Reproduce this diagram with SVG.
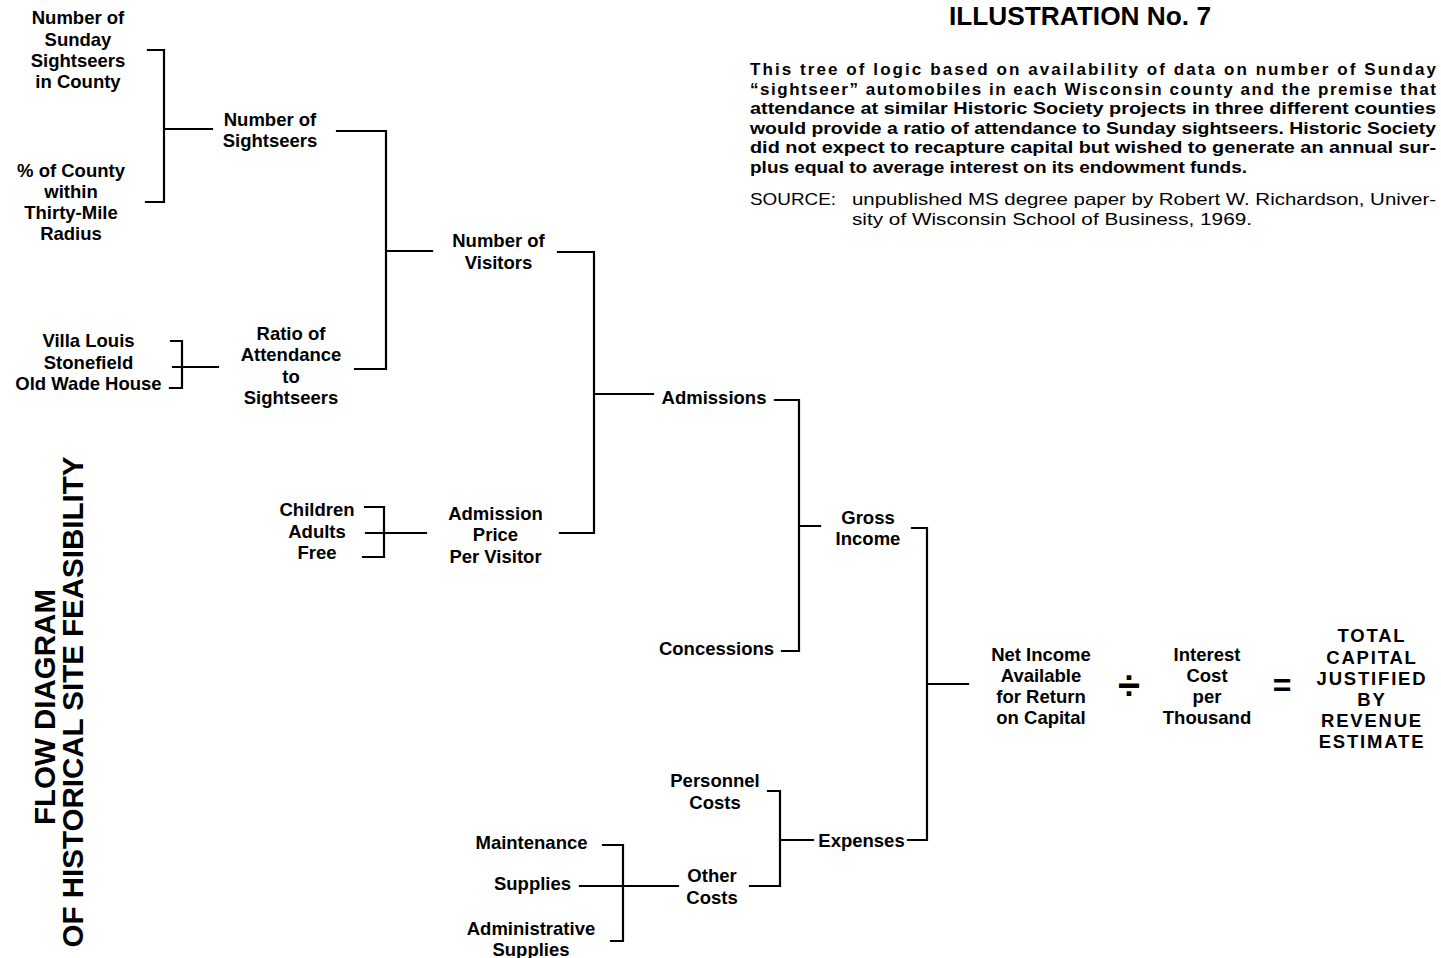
<svg xmlns="http://www.w3.org/2000/svg" width="1441" height="958" viewBox="0 0 1441 958">
<style>
  .n { font-family: "Liberation Sans", Arial, sans-serif; font-weight: bold; font-size: 18.5px; fill: #000; text-anchor: middle; }
  .caps { letter-spacing: 1.8px; }
  .p { font-family: "Liberation Sans", Arial, sans-serif; font-weight: bold; font-size: 17px; fill: #000; }
  .s { font-family: "Liberation Sans", Arial, sans-serif; font-size: 17px; fill: #000; }
  .t { font-family: "Liberation Sans", Arial, sans-serif; font-weight: bold; font-size: 25px; fill: #000; }
  .v { font-family: "Liberation Sans", Arial, sans-serif; font-weight: bold; font-size: 30px; fill: #000; text-anchor: middle; }
  .op { font-family: "Liberation Sans", Arial, sans-serif; font-weight: bold; fill: #000; text-anchor: middle; }
  .c { fill: none; stroke: #000; stroke-width: 2.2; stroke-linecap: square; stroke-linejoin: miter; }
</style>
<rect width="1441" height="958" fill="#fff"/>

<g id="title">
  <text class="t" x="949" y="25" textLength="262" lengthAdjust="spacingAndGlyphs">ILLUSTRATION No. 7</text>
</g>
<g id="description">
  <text class="p" x="750" y="75" textLength="686" lengthAdjust="spacing">This tree of logic based on availability of data on number of Sunday</text>
  <text class="p" x="750" y="94.5" textLength="686" lengthAdjust="spacing">“sightseer” automobiles in each Wisconsin county and the premise that</text>
  <text class="p" x="750" y="114" textLength="686" lengthAdjust="spacingAndGlyphs">attendance at similar Historic Society projects in three different counties</text>
  <text class="p" x="750" y="133.5" textLength="686" lengthAdjust="spacingAndGlyphs">would provide a ratio of attendance to Sunday sightseers. Historic Society</text>
  <text class="p" x="750" y="153" textLength="686" lengthAdjust="spacingAndGlyphs">did not expect to recapture capital but wished to generate an annual sur-</text>
  <text class="p" x="750" y="172.5" textLength="497" lengthAdjust="spacingAndGlyphs">plus equal to average interest on its endowment funds.</text>
  <text class="s" x="750" y="205" textLength="86" lengthAdjust="spacingAndGlyphs">SOURCE:</text>
  <text class="s" x="852" y="205" textLength="584" lengthAdjust="spacingAndGlyphs">unpublished MS degree paper by Robert W. Richardson, Univer-</text>
  <text class="s" x="852" y="225" textLength="400" lengthAdjust="spacingAndGlyphs">sity of Wisconsin School of Business, 1969.</text>
</g>
<g id="side-title">
  <text class="v" transform="translate(55,707) rotate(-90)" textLength="236" lengthAdjust="spacingAndGlyphs">FLOW DIAGRAM</text>
  <text class="v" transform="translate(83,702) rotate(-90)" textLength="491" lengthAdjust="spacingAndGlyphs">OF HISTORICAL SITE FEASIBILITY</text>
</g>

<g id="connectors">
  <path class="c" d="M148,50 H164 V202 H146 M164,129 H212"/>
  <path class="c" d="M337,131 H386 V369 H355 M386,251 H432"/>
  <path class="c" d="M171,341 H182 V388 H170 M173,367 H218"/>
  <path class="c" d="M365,507 H384 V557 H363 M366,533 H426"/>
  <path class="c" d="M558,252 H594 V533 H560 M594,394 H653"/>
  <path class="c" d="M775,400 H799 V651 H782 M799,526 H820"/>
  <path class="c" d="M912,528 H927 V840 H908 M927,684 H968"/>
  <path class="c" d="M768,791 H780 V886 H750 M780,840 H813"/>
  <path class="c" d="M603,845 H623 V941 H611 M580,886 H678"/>
</g>

<g id="node-sunday-sightseers">
  <text class="n" x="78"><tspan x="78" y="24">Number of</tspan><tspan x="78" y="45.5">Sunday</tspan><tspan x="78" y="66.5">Sightseers</tspan><tspan x="78" y="87.5">in County</tspan></text>
</g>
<g id="node-pct-county">
  <text class="n" x="71"><tspan x="71" y="177">% of County</tspan><tspan x="71" y="198">within</tspan><tspan x="71" y="219">Thirty-Mile</tspan><tspan x="71" y="240">Radius</tspan></text>
</g>
<g id="node-number-sightseers">
  <text class="n" x="270"><tspan x="270" y="126">Number of</tspan><tspan x="270" y="147">Sightseers</tspan></text>
</g>
<g id="node-sites">
  <text class="n" x="88.5"><tspan x="88.5" y="347">Villa Louis</tspan><tspan x="88.5" y="368.5">Stonefield</tspan><tspan x="88.5" y="390">Old Wade House</tspan></text>
</g>
<g id="node-ratio">
  <text class="n" x="291"><tspan x="291" y="339.5">Ratio of</tspan><tspan x="291" y="361">Attendance</tspan><tspan x="291" y="382.5">to</tspan><tspan x="291" y="404">Sightseers</tspan></text>
</g>
<g id="node-number-visitors">
  <text class="n" x="498.5"><tspan x="498.5" y="247">Number of</tspan><tspan x="498.5" y="268.5">Visitors</tspan></text>
</g>
<g id="node-ticket-types">
  <text class="n" x="317"><tspan x="317" y="516">Children</tspan><tspan x="317" y="537.5">Adults</tspan><tspan x="317" y="559">Free</tspan></text>
</g>
<g id="node-admission-price">
  <text class="n" x="495.5"><tspan x="495.5" y="519.5">Admission</tspan><tspan x="495.5" y="541">Price</tspan><tspan x="495.5" y="562.5">Per Visitor</tspan></text>
</g>
<g id="node-admissions">
  <text class="n" x="714" y="403.5">Admissions</text>
</g>
<g id="node-concessions">
  <text class="n" x="716.5" y="654.5">Concessions</text>
</g>
<g id="node-gross-income">
  <text class="n" x="868"><tspan x="868" y="524">Gross</tspan><tspan x="868" y="545">Income</tspan></text>
</g>
<g id="node-personnel">
  <text class="n" x="715"><tspan x="715" y="787">Personnel</tspan><tspan x="715" y="808.5">Costs</tspan></text>
</g>
<g id="node-expenses">
  <text class="n" x="861.5" y="846.5">Expenses</text>
</g>
<g id="node-maintenance">
  <text class="n" x="531.5" y="848.5">Maintenance</text>
</g>
<g id="node-supplies">
  <text class="n" x="532.5" y="890">Supplies</text>
</g>
<g id="node-admin-supplies">
  <text class="n" x="531"><tspan x="531" y="934.5">Administrative</tspan><tspan x="531" y="955.5">Supplies</tspan></text>
</g>
<g id="node-other-costs">
  <text class="n" x="712"><tspan x="712" y="882">Other</tspan><tspan x="712" y="903.5">Costs</tspan></text>
</g>
<g id="node-net-income">
  <text class="n" x="1041"><tspan x="1041" y="660.5">Net Income</tspan><tspan x="1041" y="681.5">Available</tspan><tspan x="1041" y="703">for Return</tspan><tspan x="1041" y="724">on Capital</tspan></text>
</g>
<g id="op-divide">
  <text class="op" x="1129" y="699" font-size="40">÷</text>
</g>
<g id="node-interest">
  <text class="n" x="1207"><tspan x="1207" y="660.5">Interest</tspan><tspan x="1207" y="681.5">Cost</tspan><tspan x="1207" y="703">per</tspan><tspan x="1207" y="724">Thousand</tspan></text>
</g>
<g id="op-equals">
  <text class="op" x="1282" y="696" font-size="32">=</text>
</g>
<g id="node-total-capital">
  <text class="n caps" x="1372"><tspan x="1372" y="642">TOTAL</tspan><tspan x="1372" y="663.5">CAPITAL</tspan><tspan x="1372" y="684.5">JUSTIFIED</tspan><tspan x="1372" y="705.5">BY</tspan><tspan x="1372" y="727">REVENUE</tspan><tspan x="1372" y="748">ESTIMATE</tspan></text>
</g>
</svg>
